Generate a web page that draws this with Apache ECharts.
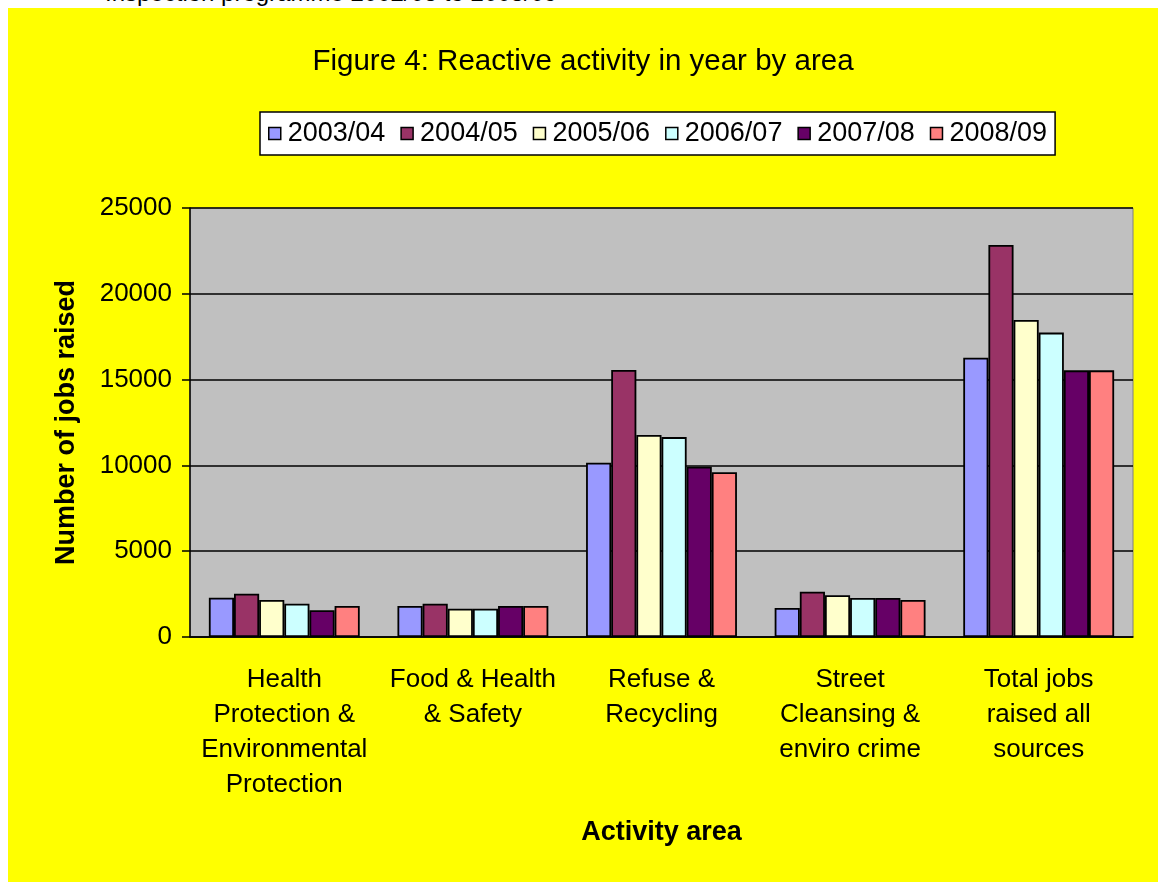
<!DOCTYPE html>
<html>
<head>
<meta charset="utf-8">
<script src="https://cdn.jsdelivr.net/npm/echarts@6/dist/echarts.min.js"></script>
<style>
  html, body { margin: 0; padding: 0; background: #fff; width: 1158px; height: 882px; overflow: hidden; position: relative; }
  #cut { position: absolute; left: 105px; top: -19px; font: 24px "Liberation Sans", Arial, sans-serif; line-height: 24px; color: #000; white-space: nowrap; }
  #chart { position: absolute; left: 8px; top: 8px; width: 1150px; height: 874px; background: #ffff00; }
</style>
</head>
<body>
<div id="cut">Inspection programme 2002/03 to 2008/09</div>
<div id="chart"></div>
<script>
// categories along the x axis
var areas = [
    'Health\nProtection &\nEnvironmental\nProtection',
    'Food & Health\n& Safety',
    'Refuse &\nRecycling',
    'Street\nCleansing &\nenviro crime',
    'Total jobs\nraised all\nsources'
];
var years = ['2003/04', '2004/05', '2005/06', '2006/07', '2007/08', '2008/09'];
var colours = ['#9999ff', '#993366', '#ffffcc', '#ccffff', '#660066', '#ff8080'];

// jobs raised per year, one value per area
var y0304 = [2290, 1810, 10160, 1690, 16280];
var y0405 = [2520, 1940, 15560, 2640, 22850];
var y0506 = [2160, 1650, 11770, 2430, 18480];
var y0607 = [1940, 1650, 11650, 2270, 17740];
var y0708 = [1555, 1810, 9925, 2270, 15540];
var y0809 = [1810, 1810, 9600, 2160, 15540];
var values = [y0304, y0405, y0506, y0607, y0708, y0809];

var font = '"Liberation Sans", Arial, sans-serif';

var chart = echarts.init(document.getElementById('chart'));

var series = years.map(function (y, i) {
    return {
        name: y,
        type: 'bar',
        data: values[i],
        barGap: '0%',
        barCategoryGap: '20%',
        itemStyle: { color: colours[i], borderColor: '#000', borderWidth: 1.8 }
    };
});

chart.setOption({
    animation: false,
    backgroundColor: '#ffff00',
    textStyle: { fontFamily: font, color: '#000' },
    title: {
        text: 'Figure 4: Reactive activity in year by area',
        left: 'center',
        top: 39,
        padding: 0,
        textStyle: { fontFamily: font, fontSize: 29.5, fontWeight: 'normal', color: '#000' }
    },
    legend: {
        data: years,
        left: 252,
        top: 104,
        padding: [8, 8],
        backgroundColor: '#fff',
        borderColor: '#000',
        borderWidth: 1.5,
        icon: 'rect',
        itemWidth: 12,
        itemHeight: 12,
        itemGap: 15,
        itemStyle: { borderColor: '#000', borderWidth: 1.5 },
        textStyle: { fontFamily: font, fontSize: 27, color: '#000', padding: [0, 0, 0, 2] }
    },
    grid: {
        left: 182,
        right: 25,
        top: 200,
        bottom: 245,
        show: true,
        backgroundColor: '#c0c0c0',
        borderColor: '#808080',
        borderWidth: 1
    },
    xAxis: {
        type: 'category',
        data: areas,
        name: 'Activity area',
        nameLocation: 'middle',
        nameGap: 182,
        nameTextStyle: { fontFamily: font, fontSize: 27, fontWeight: 'bold', color: '#000' },
        axisLine: { lineStyle: { color: '#000', width: 1.5 } },
        axisTick: { length: 8, lineStyle: { color: '#000', width: 1.5 } },
        axisLabel: { fontFamily: font, fontSize: 26, lineHeight: 35, color: '#000', margin: 25, interval: 0 }
    },
    yAxis: {
        type: 'value',
        min: 0,
        max: 25000,
        interval: 5000,
        name: 'Number of jobs raised',
        nameLocation: 'middle',
        nameGap: 110,
        nameTextStyle: { fontFamily: font, fontSize: 27, fontWeight: 'bold', color: '#000' },
        axisLine: { show: true, lineStyle: { color: '#000', width: 1.5 } },
        axisTick: { show: true, length: 8, lineStyle: { color: '#000', width: 1.5 } },
        axisLabel: { fontFamily: font, fontSize: 26, color: '#000', margin: 18, formatter: function (v) { return String(v); } },
        splitLine: { lineStyle: { color: '#000', width: 1.5 } }
    },
    series: series
});
</script>
</body>
</html>
